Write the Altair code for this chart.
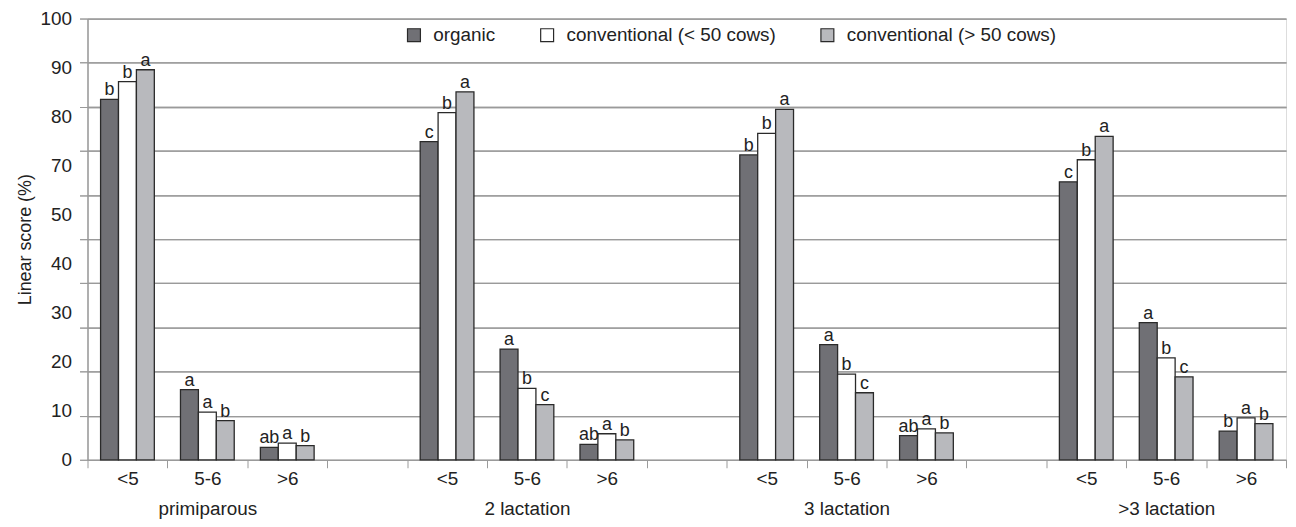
import json
import altair as alt
import pandas as pd

groups = ["primiparous", "2 lactation", "3 lactation", ">3 lactation"]
classes = ["<5", "5-6", ">6"]
series = ["organic", "conventional (< 50 cows)", "conventional (> 50 cows)"]

organic = [81.7, 15.9, 2.8, 72.1, 25.1, 3.5, 69.1, 26.1, 5.5, 63.0, 31.1, 6.5]
conv_small = [85.7, 10.8, 3.8, 78.7, 16.2, 5.9, 74.0, 19.4, 7.0, 68.0, 23.1, 9.5]
conv_large = [88.4, 8.9, 3.2, 83.4, 12.5, 4.5, 79.4, 15.2, 6.1, 73.3, 18.8, 8.2]

letters_org = ["b", "a", "ab", "c", "a", "ab", "b", "a", "ab", "c", "a", "b"]
letters_small = ["b", "a", "a", "b", "b", "a", "b", "b", "a", "b", "b", "a"]
letters_large = ["a", "b", "b", "a", "c", "b", "a", "c", "b", "a", "c", "b"]

y_tick_labels = ["100", "90", "80", "70", "50", "40", "30", "20", "10", "0"]

colors = ["#707075", "#ffffff", "#b8b9bd"]
FONT = "Liberation Sans, Arial, sans-serif"
GRID = "#9a9a9a"

# slots: 3 classes per group + an empty slot between groups
n_slots = len(groups) * 4 - 1
slot_labels = []
for gi, g in enumerate(groups):
    for ci, c in enumerate(classes):
        slot_labels.append([c, g] if ci == 1 else c)
    if gi < len(groups) - 1:
        slot_labels.append("")

rows = []
values = [organic, conv_small, conv_large]
letters = [letters_org, letters_small, letters_large]
for gi, g in enumerate(groups):
    for ci, c in enumerate(classes):
        k = gi * 3 + ci
        for si, s in enumerate(series):
            rows.append({
                "slot": gi * 4 + ci,
                "series": s,
                "value": values[si][k],
                "letter": letters[si][k],
            })
df = pd.DataFrame(rows)

label_expr = "[" + ",".join(json.dumps(l) for l in slot_labels) + "][datum.value]"

x_enc = alt.X(
    "slot:O",
    scale=alt.Scale(type="band", domain=list(range(n_slots)), paddingInner=0, paddingOuter=0),
    axis=alt.Axis(
        title=None, labelExpr=label_expr, tickBand="extent", tickSize=8,
        labelAngle=0, labelFontSize=19, labelLineHeight=30, labelPadding=2,
        labelBaseline="top", labelOverlap=False, labelColor="#222",
        domainColor=GRID, tickColor=GRID, grid=False, labelFont=FONT,
    ),
)
xo_enc = alt.XOffset(
    "series:N", sort=series,
    scale=alt.Scale(domain=series, paddingOuter=0.73, paddingInner=0),
)
y_enc = alt.Y(
    "value:Q",
    scale=alt.Scale(domain=[0, 100], nice=False),
    axis=alt.Axis(
        values=list(range(0, 101, 10)), labels=False, title=None, tickSize=8,
        ticks=True, domain=True, grid=True,
        tickColor=GRID, domainColor=GRID, gridColor=GRID,
        gridWidth=1.3, orient="left",
    ),
)

bars = alt.Chart(df).mark_bar(stroke="#2a2a2a", strokeWidth=1.3).encode(
    x=x_enc,
    xOffset=xo_enc,
    y=y_enc,
    color=alt.Color(
        "series:N", sort=series,
        scale=alt.Scale(domain=series, range=colors),
        legend=alt.Legend(
            orient="none", legendX=319, legendY=7, direction="horizontal",
            title=None, symbolType="square", symbolSize=169,
            symbolStrokeColor="#2a2a2a", symbolStrokeWidth=1.2,
            labelFontSize=19, labelFont=FONT, labelColor="#222",
            columnPadding=42, labelOffset=10, labelLimit=400,
        ),
    ),
)

texts = alt.Chart(df).mark_text(
    baseline="alphabetic", dy=-4, fontSize=18, font=FONT, color="#222"
).encode(
    x=x_enc,
    xOffset=xo_enc,
    y=y_enc,
    text="letter:N",
)

ylab = alt.Chart(pd.DataFrame({"lab": y_tick_labels})).mark_text(text="").encode(
    y=alt.Y(
        "lab:N", sort=y_tick_labels,
        scale=alt.Scale(type="point", padding=0),
        axis=alt.Axis(
            orient="left", ticks=False, tickSize=0, domain=False, grid=False,
            labelPadding=16, labelFontSize=19, labelFont=FONT, labelColor="#222",
            title="Linear score (%)", titlePadding=6, titleFontSize=18,
            titleFont=FONT, titleFontWeight="normal", titleColor="#222",
        ),
    )
)

chart = alt.layer(bars, texts, ylab).resolve_scale(y="independent").resolve_axis(y="independent").properties(
    width=1206, height=444,
    autosize=alt.AutoSizeParams(type="none"),
    padding={"left": 80, "top": 9, "right": 2, "bottom": 66},
).configure_view(stroke=None).configure(font=FONT)

chart.save("out.html", embed_options={"renderer": "svg", "actions": False})
